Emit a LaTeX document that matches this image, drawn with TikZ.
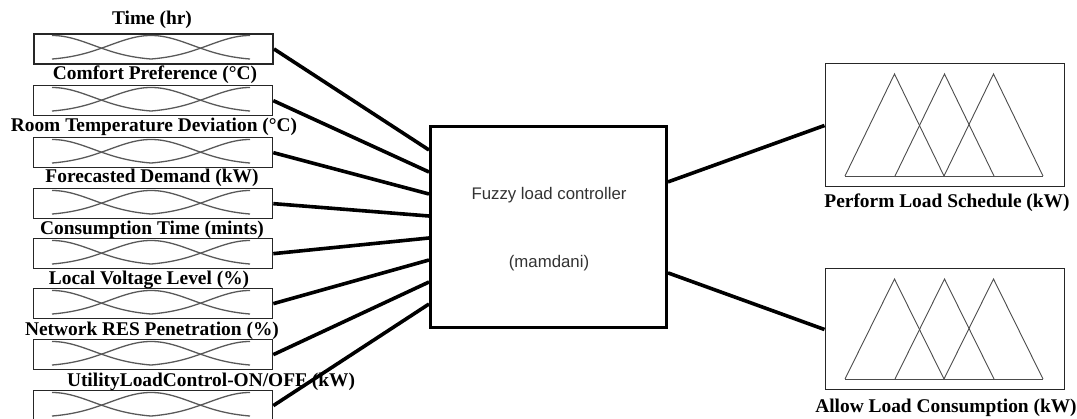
\documentclass[tikz,border=0pt]{standalone}
\usepackage{fontspec}
\setmainfont{Liberation Serif}
\newfontfamily\arialfont{Liberation Sans}
\usetikzlibrary{calc}
\begin{document}
\begin{tikzpicture}[x=1pt,y=-1pt,
  inbox/.style={draw=black!85, line width=1.3pt, minimum width=239pt, minimum height=30pt, inner sep=0pt, anchor=north west},
  mfcurve/.style={draw=black!65, line width=1.3pt},
  lbl/.style={font=\fontsize{19.4}{21}\selectfont\bfseries, inner sep=0pt},
  ctrlbox/.style={draw=black, line width=3pt, minimum width=236pt, minimum height=201pt, inner sep=0pt},
  ctext/.style={font=\arialfont\fontsize{16.8}{19}\selectfont, text=black!80, inner sep=0pt},
  outbox/.style={draw=black!85, line width=1pt, minimum width=239pt, inner sep=0pt},
  tri/.style={draw=black!70, line width=0.9pt, line join=miter},
  conn/.style={draw=black, line width=3.6pt}
]
\useasboundingbox (0,0) rectangle (1077,419);

% input boxes
\node[inbox, line width=2pt] (i1) at (33,33) {};
\node[inbox] (i2) at (33,85) {};
\node[inbox] (i3) at (33,137) {};
\node[inbox] (i4) at (33,188) {};
\node[inbox] (i5) at (33,238) {};
\node[inbox] (i6) at (33,288) {};
\node[inbox] (i7) at (33,339) {};
\node[inbox] (i8) at (33,390) {};

% membership curves inside input boxes
\foreach \T in {33,85,137,188,238,288,339,390}{
  \draw[mfcurve] plot[domain=52:151, samples=40, smooth] (\x, {\T+27.5-25*exp(-((\x-52)^2)/3461)});
  \draw[mfcurve] plot[domain=52:250, samples=70, smooth] (\x, {\T+27.5-25*exp(-((\x-151)^2)/3461)});
  \draw[mfcurve] plot[domain=151:250, samples=40, smooth] (\x, {\T+27.5-25*exp(-((\x-250)^2)/3461)});
}

% input labels
\node[lbl] (l1) at (152,19.5) {Time (hr)};
\node[lbl] (l2) at (155,75) {Comfort Preference (°C)};
\node[lbl] (l3) at (154,127) {Room Temperature Deviation (°C)};
\node[lbl] (l4) at (152,178) {Forecasted Demand (kW)};
\node[lbl] (l5) at (152,230) {Consumption Time (mints)};
\node[lbl] (l6) at (149,280) {Local Voltage Level (\%)};
\node[lbl] (l7) at (152,331) {Network RES Penetration (\%)};
\node[lbl] (l8) at (211,382) {UtilityLoadControl-ON/OFF (kW)};

% controller
\node[ctrlbox] (ctrl) at (548.5,227) {};
\node[ctext] (t1) at (549,195) {Fuzzy load controller};
\node[ctext] (t2) at (549,263) {(mamdani)};

% output boxes
\node[outbox, minimum height=123pt] (o1) at (944.5,125.5) {};
\node[outbox, minimum height=121pt] (o2) at (944.5,329.5) {};

% triangles
\foreach \a in {845,895,944}{
  \draw[tri] (\a,176) -- (\a+49.5,74) -- (\a+99,176);
  \draw[tri] (\a,379) -- (\a+49.5,279) -- (\a+99,379);
}
\draw[tri] (845,176) -- (1043,176);
\draw[tri] (845,379) -- (1043,379);

% output labels
\node[lbl] (p1) at (947,203) {Perform Load Schedule (kW)};
\node[lbl] (p2) at (946,408) {Allow Load Consumption (kW)};

% connectors
\foreach \i in {1,...,8}{
  \pgfmathsetmacro{\tt}{0.1225+(\i-1)*0.10786}
  \draw[conn] (i\i.east) -- ($(ctrl.north west)!\tt!(ctrl.south west)$);
}
\draw[conn] ($(ctrl.north east)!0.279!(ctrl.south east)$) -- (o1.west);
\draw[conn] ($(ctrl.north east)!0.725!(ctrl.south east)$) -- (o2.west);
\end{tikzpicture}
\end{document}
